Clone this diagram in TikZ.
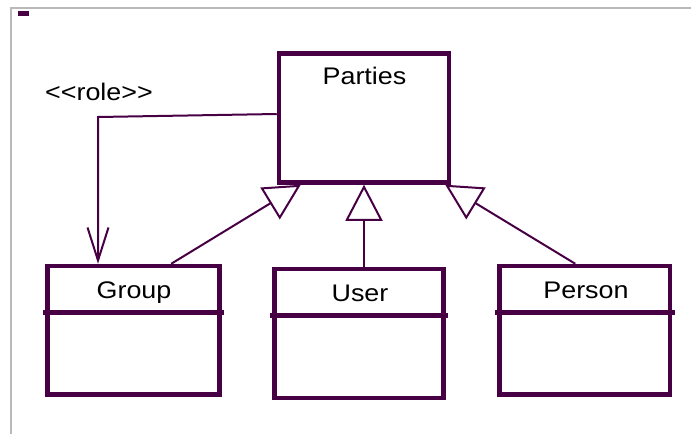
\documentclass[tikz,border=0pt]{standalone}
\usepackage{fontspec}
\setmainfont{Liberation Sans}[FakeStretch=1.12]
\usetikzlibrary{arrows.meta}
\definecolor{umlpurple}{RGB}{72,0,68}
\definecolor{framegray}{RGB}{185,185,185}
\tikzset{
  umlbox/.style={draw=umlpurple, line width=4.5pt, rectangle, inner sep=0pt, fill=white},
  divider/.style={draw=umlpurple, line width=4.5pt},
  lbl/.style={anchor=base, inner sep=0pt, text=black, font=\fontsize{24}{28}\selectfont},
  conn/.style={draw=umlpurple, line width=2pt},
  gen/.style={conn, -{Triangle[length=36pt, width=37pt, fill=white, line join=miter]}},
  assoc/.style={conn, -{Straight Barb[length=33pt, width=21pt]}},
}
\begin{document}
\begin{tikzpicture}[x=1pt, y=-1pt]
\useasboundingbox (0,0) rectangle (691,434);
% frame
\draw[framegray, line width=2pt] (11,434) -- (11,8.3) -- (691,8.3);
\fill[umlpurple] (18,11) rectangle (29,16);
% boxes
\node[umlbox, minimum width=170pt, minimum height=129pt] (parties) at (364,118) {};
\node[umlbox, minimum width=172pt, minimum height=128.5pt] (group) at (133.5,330.25) {};
\node[umlbox, minimum width=169pt, minimum height=129pt] (user) at (359,333.5) {};
\node[umlbox, minimum width=170.5pt, minimum height=128.5pt] (person) at (584.75,330.25) {};
% dividers
\draw[divider] ([xshift=-2.5pt,yshift=-48.75pt]group.north west) -- ([xshift=2.5pt,yshift=-48.75pt]group.north east);
\draw[divider] ([xshift=-2.5pt,yshift=-48.75pt]user.north west) -- ([xshift=2.5pt,yshift=-48.75pt]user.north east);
\draw[divider] ([xshift=-2.5pt,yshift=-48.75pt]person.north west) -- ([xshift=2.5pt,yshift=-48.75pt]person.north east);
% labels
\node[lbl] (partiesname) at (364.5,84) {Parties};
\node[lbl] (groupname) at (134,298) {Group};
\node[lbl] (username) at (360,301) {User};
\node[lbl] (personname) at (586,298) {Person};
\node[lbl] (rolelbl) at (99,100) {{<}{<}role{>}{>}};
% connectors
\coordinate (rolecorner) at (98,117);
\draw[assoc] ([yshift=4pt]parties.west) -- (rolecorner) -- (group.north -| rolecorner);
\draw[gen] ([xshift=126pt]group.north west) -- ([xshift=24pt]parties.south west);
\draw[gen] (user.north -| parties.south) -- (parties.south);
\draw[gen] ([xshift=-97pt]person.north east) -- ([xshift=-6pt]parties.south east);
\end{tikzpicture}
\end{document}
